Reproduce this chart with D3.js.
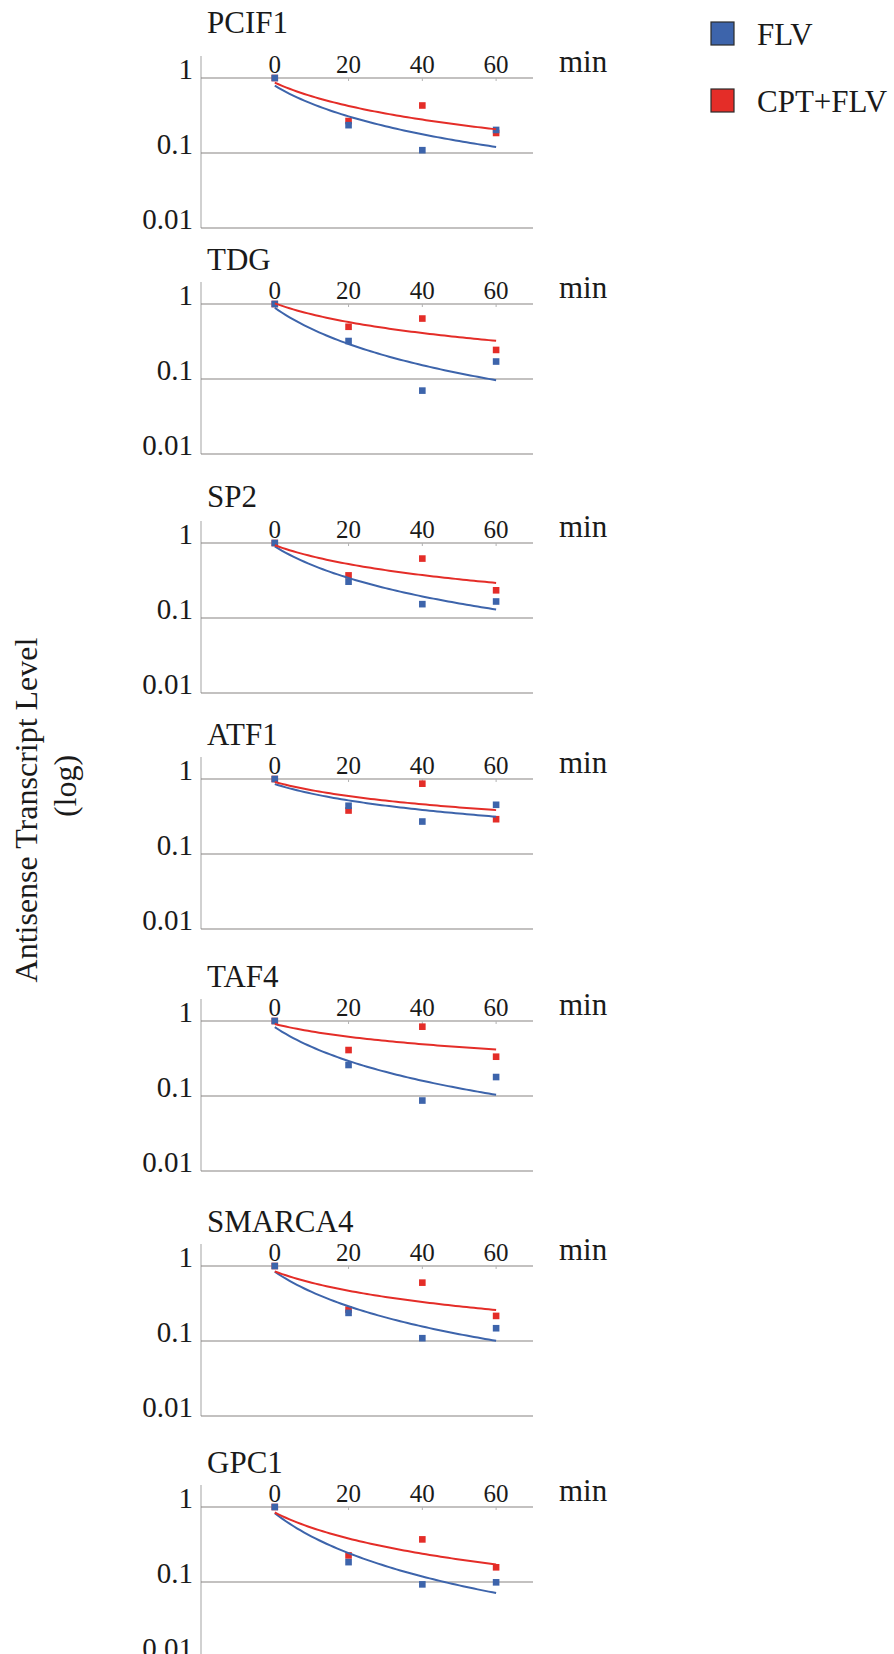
<!DOCTYPE html>
<html>
<head>
<meta charset="utf-8">
<script src="https://cdn.jsdelivr.net/npm/d3@7"></script>
<style>
  html, body { margin: 0; padding: 0; background: #ffffff; }
  svg { display: block; }
  text { font-family: "Liberation Serif", "Times New Roman", serif; fill: #1a1a1a; }
</style>
</head>
<body>
<svg id="chart" width="894" height="1654"></svg>
<script>
// ---------------- data ----------------
const genes = ["PCIF1", "TDG", "SP2", "ATF1", "TAF4", "SMARCA4", "GPC1"];
const timePoints = [0, 20, 40, 60];
const seriesNames = ["FLV", "CPT+FLV"];
const flvValues = [
  [1.0, 0.235, 0.109, 0.203],
  [1.0, 0.321, 0.070, 0.171],
  [1.0, 0.305, 0.153, 0.166],
  [1.0, 0.440, 0.271, 0.453],
  [1.0, 0.259, 0.087, 0.179],
  [1.0, 0.237, 0.109, 0.148],
  [1.0, 0.184, 0.093, 0.099]
];
const cptFlvValues = [
  [1.0, 0.267, 0.430, 0.185],
  [1.0, 0.497, 0.640, 0.244],
  [1.0, 0.370, 0.620, 0.234],
  [1.0, 0.380, 0.866, 0.291],
  [1.0, 0.410, 0.840, 0.334],
  [1.0, 0.262, 0.600, 0.216],
  [1.0, 0.226, 0.370, 0.157]
];
const xTickValues = [0, 20, 40, 60];
const yTickValues = [1, 0.1, 0.01];
const yTickLabels = ["1", "0.1", "0.01"];
const xUnitLabel = "min";
const yAxisTitle = ["Antisense Transcript Level", "(log)"];

// ---------------- layout ----------------
const panelTopY = [78, 304, 543, 779, 1021, 1266, 1507]; // y of the "1" gridline
const titleOffset = [45, 34, 36, 34, 34, 34, 34];
const decadePx = 75;
const colors = { FLV: "#3d64ab", "CPT+FLV": "#e42d28" };
const gridColor = "#878481";
const axisColor = "#b3b3b3";

const svg = d3.select("#chart");
const x = d3.scaleLinear().domain([-20, 70]).range([201, 533]);

// power trendline (Excel style, x = 1..n) derived from the data
function powerFit(vals) {
  const lx = vals.map((v, i) => Math.log(i + 1));
  const ly = vals.map(v => Math.log(v));
  const mx = d3.mean(lx), my = d3.mean(ly);
  const sxy = d3.sum(lx, (v, i) => (v - mx) * (ly[i] - my));
  const sxx = d3.sum(lx, v => (v - mx) * (v - mx));
  const b = sxy / sxx;
  const a = Math.exp(my - b * mx);
  return t => a * Math.pow(t / 20 + 1, b);
}

genes.forEach((gene, gi) => {
  const top = panelTopY[gi];
  const y = d3.scaleLog().domain([0.01, 1]).range([top + 2 * decadePx, top]);
  const g = svg.append("g");

  // vertical axis line
  g.append("line")
    .attr("x1", x(-20)).attr("x2", x(-20))
    .attr("y1", top - 22).attr("y2", y(0.01))
    .attr("stroke", axisColor).attr("stroke-width", 1.2);

  // horizontal gridlines
  g.selectAll("line.grid").data(yTickValues).enter().append("line")
    .attr("class", "grid")
    .attr("x1", x(-20)).attr("x2", x(70))
    .attr("y1", d => y(d)).attr("y2", d => y(d))
    .attr("stroke", gridColor).attr("stroke-width", 1.2);

  // small ticks under top gridline
  g.selectAll("line.xt").data(xTickValues).enter().append("line")
    .attr("class", "xt")
    .attr("x1", d => x(d)).attr("x2", d => x(d))
    .attr("y1", y(1)).attr("y2", y(1) + 3)
    .attr("stroke", axisColor).attr("stroke-width", 1);

  // y tick labels
  g.selectAll("text.yl").data(yTickValues).enter().append("text")
    .attr("class", "yl")
    .attr("x", 193).attr("y", d => y(d) + 1)
    .attr("text-anchor", "end")
    .attr("font-size", 29)
    .text((d, i) => yTickLabels[i]);

  // x tick labels
  g.selectAll("text.xl").data(xTickValues).enter().append("text")
    .attr("class", "xl")
    .attr("x", d => x(d)).attr("y", y(1) - 5)
    .attr("text-anchor", "middle")
    .attr("font-size", 25)
    .text(d => d);

  // unit label
  g.append("text").attr("x", 559).attr("y", y(1) - 6)
    .attr("font-size", 31).text(xUnitLabel);

  // title
  g.append("text").attr("x", 207).attr("y", top - titleOffset[gi])
    .attr("font-size", 31).text(gene);

  const series = [
    { name: "FLV", vals: flvValues[gi] },
    { name: "CPT+FLV", vals: cptFlvValues[gi] }
  ];

  // markers (CPT+FLV drawn first, FLV on top at t=0 like the reference)
  [series[1], series[0]].forEach(s => {
    g.selectAll(null).data(s.vals).enter().append("rect")
      .attr("x", (d, i) => x(timePoints[i]) - 3.3)
      .attr("y", d => y(d) - 3.3)
      .attr("width", 6.6).attr("height", 6.6)
      .attr("fill", colors[s.name]);
  });

  // trendlines
  series.forEach(s => {
    const f = powerFit(s.vals);
    const ts = d3.range(0, 60.5, 1);
    g.append("path")
      .datum(ts)
      .attr("d", d3.line().x(t => x(t)).y(t => y(f(t))))
      .attr("fill", "none")
      .attr("stroke", colors[s.name])
      .attr("stroke-width", 2);
  });
});

// y axis title
const yt = svg.append("g").attr("transform", "translate(0,810) rotate(-90)");
yt.append("text").attr("x", 0).attr("y", 37).attr("text-anchor", "middle")
  .attr("font-size", 32).text(yAxisTitle[0]);
yt.append("text").attr("x", 24).attr("y", 76).attr("text-anchor", "middle")
  .attr("font-size", 32).text(yAxisTitle[1]);

// legend
const legend = svg.append("g");
seriesNames.forEach((name, i) => {
  const ly = 22 + i * 67;
  legend.append("rect").attr("x", 711).attr("y", ly).attr("width", 23).attr("height", 23)
    .attr("fill", colors[name]).attr("stroke", "#2b2b2b").attr("stroke-width", 1.2);
  legend.append("text").attr("x", 757).attr("y", ly + 23).attr("font-size", 31).text(name);
});
</script>
</body>
</html>
